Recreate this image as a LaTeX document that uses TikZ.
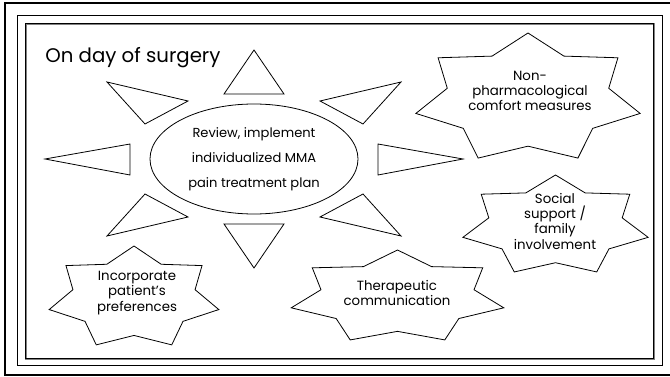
\documentclass[tikz,border=0pt]{standalone}
\usepackage{fontspec}
\setmainfont{Poppins}
\usetikzlibrary{shapes.geometric}
\newcommand\sevenstar[4]{%
  \draw[starline] plot[samples at={0,...,13}]
    ({#1+#3*(mod(\x,2)==0?1:0.72)*cos(90+\x*180/7)},
     {#2-#4*(mod(\x,2)==0?1:0.72)*sin(90+\x*180/7)}) -- cycle;}
\begin{document}
\begin{tikzpicture}[x=0.75pt,y=-0.75pt,
  tri/.style={draw=black,line width=0.6pt,line join=miter},
  starline/.style={draw=black,line width=0.6pt,line join=miter},
  lbl/.style={align=center,font=\fontsize{10}{11.5}\selectfont,inner sep=0pt},
]
\useasboundingbox (0,0) rectangle (670,377);
% frames
\draw[line width=2.2pt] (5,3) rectangle (685,375);
\draw[line width=0.7pt] (17,15) rectangle (662,365);
\draw[gray,line width=1.4pt] (26,24) rectangle (654,359);
\draw[line width=0.5pt] (25,23) rectangle (653,358);
% title
\node[anchor=base west,inner sep=0pt,font=\fontsize{14.8}{18}\selectfont] (title) at (45,63) {On day of surgery};
% triangles
\draw[tri] (254,50) -- (224,94) -- (284,94) -- cycle;
\draw[tri] (107,82) -- (188,101) -- (145,124) -- cycle;
\draw[tri] (45,159) -- (130,144) -- (130,175) -- cycle;
\draw[tri] (401,82) -- (320,101) -- (363,124) -- cycle;
\draw[tri] (463,159) -- (378,144) -- (378,175) -- cycle;
\draw[tri] (107,236) -- (188,217) -- (145,194) -- cycle;
\draw[tri] (254,268) -- (224,224) -- (284,224) -- cycle;
\draw[tri] (401,236) -- (320,217) -- (363,194) -- cycle;
% ellipse
\node[draw,ellipse,line width=0.6pt,minimum width=156pt,minimum height=82.5pt,inner sep=0pt,
  align=center,font=\fontsize{9.8}{18.75}\selectfont] (plan) at (254,159)
  {Review, implement\\individualized MMA\\pain treatment plan};
% stars
\sevenstar{528}{98.8}{115}{65.8}
\sevenstar{555.5}{226}{95}{51}
\sevenstar{397.5}{297.3}{109}{47.3}
\sevenstar{134}{298}{87}{52}
\node[lbl] (nonpharm) at (530,91) {Non-\\pharmacological\\comfort measures};
\node[lbl] (social) at (555,221) {Social\\support /\\family\\involvement};
\node[lbl] (thera) at (397,293) {Therapeutic\\communication};
\node[lbl] (incorp) at (137,293) {Incorporate\\patient’s\\preferences};
\end{tikzpicture}
\end{document}
